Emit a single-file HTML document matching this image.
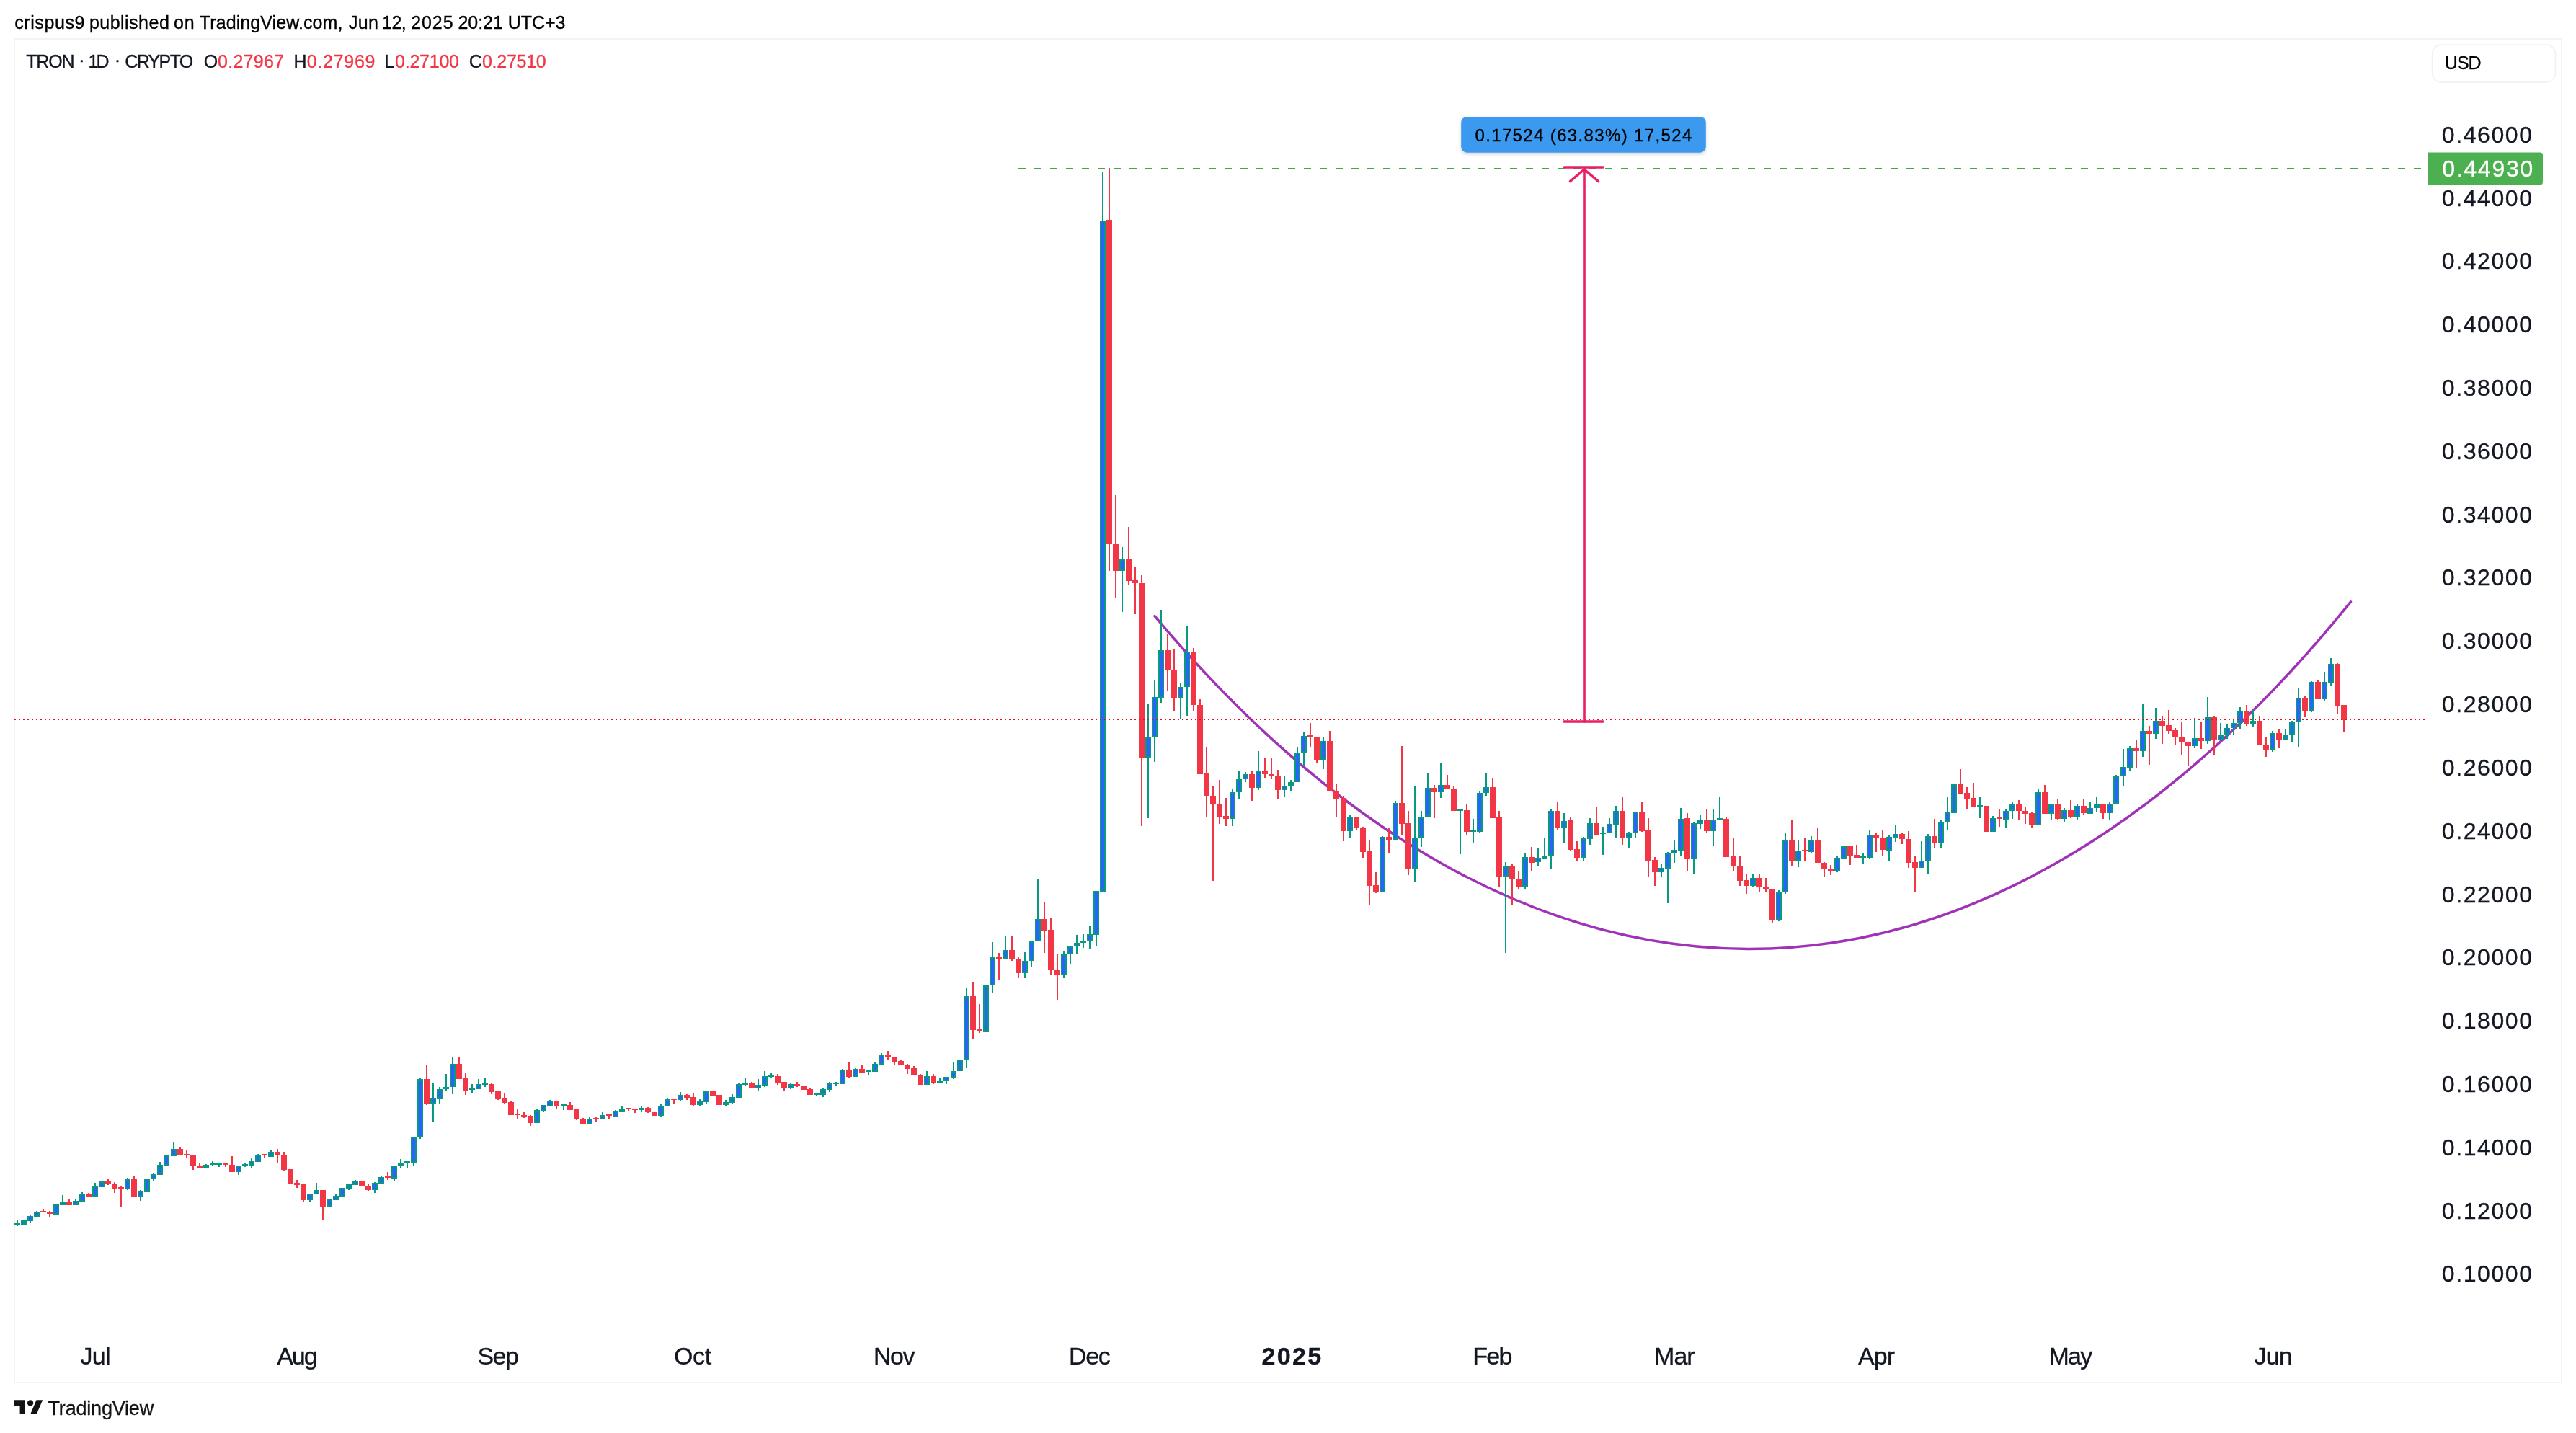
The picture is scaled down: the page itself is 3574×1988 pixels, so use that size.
<!DOCTYPE html>
<html><head><meta charset="utf-8"><style>
html,body{margin:0;padding:0;background:#fff;}
svg{display:block;}
text{font-family:"Liberation Sans",sans-serif;}
svg{will-change:transform;}
</style></head><body>
<svg width="3574" height="1988" viewBox="0 0 3574 1988">
<rect x="0" y="0" width="3574" height="1988" fill="#ffffff"/>
<rect x="20" y="54" width="3534" height="1864" fill="none" stroke="#f3f3f3" stroke-width="2"/>
<text x="20.14" y="40.00" font-size="25" letter-spacing="0.594" fill="#000000" stroke="#000000" stroke-width="0.35">crispus9</text>
<text x="123.89" y="40.00" font-size="25" letter-spacing="0.486" fill="#000000" stroke="#000000" stroke-width="0.35">published</text>
<text x="240.95" y="40.00" font-size="25" letter-spacing="0.966" fill="#000000" stroke="#000000" stroke-width="0.35">on</text>
<text x="276.84" y="40.00" font-size="25" letter-spacing="0.089" fill="#000000" stroke="#000000" stroke-width="0.35">TradingView.com,</text>
<text x="483.91" y="40.00" font-size="25" letter-spacing="0.403" fill="#000000" stroke="#000000" stroke-width="0.35">Jun</text>
<text x="530.10" y="40.00" font-size="25" letter-spacing="-0.552" fill="#000000" stroke="#000000" stroke-width="0.35">12,</text>
<text x="570.34" y="40.00" font-size="25" letter-spacing="0.864" fill="#000000" stroke="#000000" stroke-width="0.35">2025</text>
<text x="635.54" y="40.00" font-size="25" letter-spacing="-0.071" fill="#000000" stroke="#000000" stroke-width="0.35">20:21</text>
<text x="704.77" y="40.00" font-size="25" letter-spacing="-0.089" fill="#000000" stroke="#000000" stroke-width="0.35">UTC+3</text>
<text x="36.24" y="93.90" font-size="25" letter-spacing="-1.175" fill="#131722" stroke="#131722" stroke-width="0.35">TRON</text>
<text x="122.40" y="93.90" font-size="25" letter-spacing="-2.757" fill="#131722" stroke="#131722" stroke-width="0.35">1D</text>
<text x="173.23" y="93.90" font-size="25" letter-spacing="-1.642" fill="#131722" stroke="#131722" stroke-width="0.35">CRYPTO</text>
<rect x="111.8" y="83.3" width="3" height="3" rx="0.6" fill="#131722"/>
<rect x="161.5" y="83.3" width="3" height="3" rx="0.6" fill="#131722"/>
<text x="282.82" y="93.90" font-size="25" letter-spacing="0.000" fill="#131722" stroke="#131722" stroke-width="0.35">O</text>
<text x="302.02" y="93.90" font-size="25" letter-spacing="0.261" fill="#f23645" stroke="#f23645" stroke-width="0.35">0.27967</text>
<text x="407.55" y="93.90" font-size="25" letter-spacing="0.000" fill="#131722" stroke="#131722" stroke-width="0.35">H</text>
<text x="425.72" y="93.90" font-size="25" letter-spacing="0.732" fill="#f23645" stroke="#f23645" stroke-width="0.35">0.27969</text>
<text x="533.35" y="93.90" font-size="25" letter-spacing="0.000" fill="#131722" stroke="#131722" stroke-width="0.35">L</text>
<text x="548.02" y="93.90" font-size="25" letter-spacing="-0.236" fill="#f23645" stroke="#f23645" stroke-width="0.35">0.27100</text>
<text x="650.63" y="93.90" font-size="25" letter-spacing="0.000" fill="#131722" stroke="#131722" stroke-width="0.35">C</text>
<text x="668.92" y="93.90" font-size="25" letter-spacing="-0.253" fill="#f23645" stroke="#f23645" stroke-width="0.35">0.27510</text>
<rect x="3374.5" y="62" width="171" height="52" rx="13" fill="#ffffff" stroke="#f0f0f0" stroke-width="1.5"/>
<text x="3391.87" y="95.90" font-size="25" letter-spacing="-1.029" fill="#000000" stroke="#000000" stroke-width="0.35">USD</text>
<path d="M1602 854.6 C2110.08 1460 2734.36 1487.4 3261.5 834.8" fill="none" stroke="#a032b8" stroke-width="3.5" stroke-linecap="round"/>
<path d="M23 1692h2v5h-2zM23 1699h2v2h-2zM20 1697h8v2h-8zM32 1692h2v1h-2zM29 1693h8v6h-8zM41 1685h2v2h-2zM41 1694h2v2h-2zM38 1687h8v7h-8zM50 1680h2v1h-2zM47 1681h8v7h-8zM77 1670h2v1h-2zM74 1671h8v14h-8zM86 1658h2v10h-2zM83 1668h8v4h-8zM104 1663h2v3h-2zM101 1666h8v6h-8zM113 1653h2v3h-2zM110 1656h8v11h-8zM131 1641h2v5h-2zM128 1646h8v14h-8zM137 1639h8v8h-8zM176 1634h2v2h-2zM176 1650h2v1h-2zM173 1636h8v14h-8zM194 1651h2v1h-2zM194 1660h2v6h-2zM191 1652h8v8h-8zM200 1635h8v18h-8zM212 1627h2v2h-2zM212 1636h2v3h-2zM209 1629h8v7h-8zM221 1612h2v4h-2zM218 1616h8v14h-8zM230 1617h2v1h-2zM227 1603h8v14h-8zM240 1584h2v10h-2zM237 1594h8v10h-8zM285 1615h2v1h-2zM285 1620h2v1h-2zM282 1616h8v4h-8zM294 1610h2v4h-2zM294 1616h2v1h-2zM291 1614h8v2h-8zM303 1616h2v3h-2zM300 1614h8v2h-8zM330 1626h2v4h-2zM327 1617h8v9h-8zM339 1614h2v1h-2zM339 1617h2v2h-2zM336 1615h8v2h-8zM348 1607h2v4h-2zM348 1617h2v3h-2zM345 1611h8v6h-8zM357 1601h2v1h-2zM354 1602h8v10h-8zM375 1595h2v3h-2zM372 1598h8v7h-8zM429 1665h2v2h-2zM426 1656h8v9h-8zM438 1641h2v10h-2zM435 1651h8v6h-8zM456 1663h2v1h-2zM453 1664h8v10h-8zM465 1656h2v3h-2zM462 1659h8v6h-8zM474 1660h2v1h-2zM471 1648h8v12h-8zM483 1649h2v2h-2zM480 1643h8v6h-8zM492 1637h2v2h-2zM489 1639h8v5h-8zM519 1640h2v1h-2zM519 1651h2v4h-2zM516 1641h8v10h-8zM528 1631h2v2h-2zM525 1633h8v9h-8zM546 1635h2v3h-2zM543 1617h8v18h-8zM555 1608h2v6h-2zM555 1618h2v3h-2zM552 1614h8v4h-8zM564 1613h2v8h-2zM561 1611h8v2h-8zM573 1613h2v5h-2zM570 1577h8v36h-8zM582 1495h2v2h-2zM582 1578h2v2h-2zM579 1497h8v81h-8zM600 1503h2v20h-2zM600 1531h2v25h-2zM597 1523h8v8h-8zM609 1508h2v3h-2zM609 1524h2v8h-2zM606 1511h8v13h-8zM618 1490h2v18h-2zM618 1511h2v2h-2zM615 1508h8v3h-8zM627 1467h2v9h-2zM627 1508h2v10h-2zM624 1476h8v32h-8zM654 1504h2v6h-2zM654 1512h2v4h-2zM651 1510h8v2h-8zM663 1497h2v7h-2zM660 1504h8v7h-8zM672 1496h2v7h-2zM672 1505h2v3h-2zM669 1503h8v2h-8zM744 1539h2v1h-2zM741 1540h8v18h-8zM753 1541h2v2h-2zM750 1533h8v8h-8zM762 1526h2v1h-2zM759 1527h8v8h-8zM781 1534h2v6h-2zM778 1532h8v2h-8zM817 1549h2v3h-2zM817 1559h2v1h-2zM814 1552h8v7h-8zM835 1542h2v5h-2zM832 1547h8v6h-8zM853 1540h2v1h-2zM850 1541h8v9h-8zM862 1535h2v3h-2zM859 1538h8v4h-8zM889 1535h2v2h-2zM889 1540h2v2h-2zM886 1537h8v3h-8zM916 1532h2v2h-2zM916 1548h2v2h-2zM913 1534h8v14h-8zM925 1523h2v2h-2zM922 1525h8v10h-8zM943 1515h2v4h-2zM943 1526h2v1h-2zM940 1519h8v7h-8zM970 1524h2v4h-2zM970 1533h2v1h-2zM967 1528h8v5h-8zM979 1529h2v3h-2zM976 1514h8v15h-8zM1006 1526h2v3h-2zM1006 1533h2v1h-2zM1003 1529h8v4h-8zM1015 1518h2v4h-2zM1015 1530h2v1h-2zM1012 1522h8v8h-8zM1024 1502h2v2h-2zM1021 1504h8v19h-8zM1033 1495h2v7h-2zM1033 1505h2v2h-2zM1030 1502h8v3h-8zM1051 1497h2v8h-2zM1051 1510h2v3h-2zM1048 1505h8v5h-8zM1060 1486h2v7h-2zM1060 1506h2v2h-2zM1057 1493h8v13h-8zM1069 1489h2v3h-2zM1069 1494h2v1h-2zM1066 1492h8v2h-8zM1096 1503h2v1h-2zM1096 1510h2v1h-2zM1093 1504h8v6h-8zM1132 1519h2v2h-2zM1129 1517h8v2h-8zM1141 1509h2v2h-2zM1141 1519h2v3h-2zM1138 1511h8v8h-8zM1150 1501h2v2h-2zM1150 1512h2v3h-2zM1147 1503h8v9h-8zM1159 1501h2v1h-2zM1159 1504h2v3h-2zM1156 1502h8v2h-8zM1168 1483h2v1h-2zM1165 1484h8v20h-8zM1186 1482h2v1h-2zM1183 1483h8v11h-8zM1204 1487h2v4h-2zM1201 1485h8v2h-8zM1213 1474h2v2h-2zM1210 1476h8v11h-8zM1222 1461h2v2h-2zM1222 1477h2v1h-2zM1219 1463h8v14h-8zM1285 1486h2v7h-2zM1282 1493h8v12h-8zM1303 1495h2v4h-2zM1300 1499h8v4h-8zM1312 1500h2v4h-2zM1309 1494h8v6h-8zM1322 1473h2v13h-2zM1322 1495h2v2h-2zM1319 1486h8v9h-8zM1328 1470h8v16h-8zM1340 1370h2v12h-2zM1340 1470h2v12h-2zM1337 1382h8v88h-8zM1367 1366h2v1h-2zM1367 1431h2v1h-2zM1364 1367h8v64h-8zM1376 1307h2v21h-2zM1376 1367h2v11h-2zM1373 1328h8v39h-8zM1394 1298h2v20h-2zM1391 1318h8v12h-8zM1421 1321h2v12h-2zM1421 1350h2v7h-2zM1418 1333h8v17h-8zM1430 1333h2v8h-2zM1427 1306h8v27h-8zM1439 1219h2v56h-2zM1436 1275h8v31h-8zM1475 1319h2v5h-2zM1475 1353h2v4h-2zM1472 1324h8v29h-8zM1484 1312h2v1h-2zM1484 1324h2v14h-2zM1481 1313h8v11h-8zM1493 1297h2v11h-2zM1493 1313h2v10h-2zM1490 1308h8v5h-8zM1502 1296h2v9h-2zM1502 1308h2v7h-2zM1499 1305h8v3h-8zM1511 1285h2v11h-2zM1511 1306h2v11h-2zM1508 1296h8v10h-8zM1520 1297h2v16h-2zM1517 1236h8v61h-8zM1529 239h2v67h-2zM1529 1237h2v1h-2zM1526 306h8v931h-8zM1556 759h2v17h-2zM1556 792h2v57h-2zM1553 776h8v16h-8zM1592 977h2v45h-2zM1592 1051h2v84h-2zM1589 1022h8v29h-8zM1601 944h2v23h-2zM1601 1023h2v34h-2zM1598 967h8v56h-8zM1610 846h2v56h-2zM1610 968h2v7h-2zM1607 902h8v66h-8zM1637 948h2v5h-2zM1637 968h2v29h-2zM1634 953h8v15h-8zM1646 869h2v35h-2zM1646 953h2v40h-2zM1643 904h8v49h-8zM1709 1094h2v5h-2zM1709 1136h2v10h-2zM1706 1099h8v37h-8zM1718 1069h2v12h-2zM1718 1099h2v9h-2zM1715 1081h8v18h-8zM1727 1071h2v3h-2zM1727 1081h2v4h-2zM1724 1074h8v7h-8zM1745 1042h2v27h-2zM1745 1093h2v3h-2zM1742 1069h8v24h-8zM1781 1077h2v13h-2zM1781 1096h2v9h-2zM1778 1090h8v6h-8zM1790 1082h2v3h-2zM1790 1090h2v7h-2zM1787 1085h8v5h-8zM1799 1037h2v7h-2zM1796 1044h8v41h-8zM1808 1016h2v5h-2zM1808 1044h2v18h-2zM1805 1021h8v23h-8zM1835 1022h2v6h-2zM1835 1054h2v13h-2zM1832 1028h8v26h-8zM1872 1131h2v2h-2zM1872 1153h2v9h-2zM1869 1133h8v20h-8zM1917 1160h2v1h-2zM1914 1161h8v77h-8zM1935 1111h2v3h-2zM1932 1114h8v51h-8zM1962 1090h2v72h-2zM1962 1205h2v18h-2zM1959 1162h8v43h-8zM1971 1125h2v8h-2zM1971 1162h2v13h-2zM1968 1133h8v29h-8zM1980 1072h2v21h-2zM1977 1093h8v40h-8zM1998 1058h2v31h-2zM1998 1099h2v8h-2zM1995 1089h8v10h-8zM2025 1125h2v60h-2zM2022 1123h8v2h-8zM2043 1136h2v16h-2zM2043 1154h2v16h-2zM2040 1152h8v2h-8zM2052 1097h2v3h-2zM2052 1154h2v2h-2zM2049 1100h8v54h-8zM2061 1073h2v19h-2zM2061 1100h2v4h-2zM2058 1092h8v8h-8zM2088 1196h2v6h-2zM2088 1216h2v106h-2zM2085 1202h8v14h-8zM2115 1184h2v5h-2zM2115 1230h2v4h-2zM2112 1189h8v41h-8zM2133 1177h2v13h-2zM2133 1196h2v6h-2zM2130 1190h8v6h-8zM2142 1163h2v24h-2zM2139 1187h8v4h-8zM2151 1122h2v3h-2zM2151 1187h2v18h-2zM2148 1125h8v62h-8zM2169 1128h2v11h-2zM2169 1149h2v21h-2zM2166 1139h8v10h-8zM2196 1161h2v2h-2zM2196 1190h2v5h-2zM2193 1163h8v27h-8zM2205 1135h2v7h-2zM2205 1164h2v8h-2zM2202 1142h8v22h-8zM2223 1147h2v8h-2zM2223 1157h2v29h-2zM2220 1155h8v2h-8zM2232 1135h2v8h-2zM2229 1143h8v13h-8zM2241 1118h2v7h-2zM2241 1144h2v19h-2zM2238 1125h8v19h-8zM2259 1154h2v2h-2zM2259 1163h2v14h-2zM2256 1156h8v7h-8zM2268 1156h2v6h-2zM2265 1126h8v30h-8zM2304 1199h2v5h-2zM2304 1210h2v7h-2zM2301 1204h8v6h-8zM2313 1182h2v1h-2zM2313 1205h2v48h-2zM2310 1183h8v22h-8zM2322 1165h2v14h-2zM2322 1184h2v13h-2zM2319 1179h8v5h-8zM2331 1121h2v15h-2zM2331 1180h2v7h-2zM2328 1136h8v44h-8zM2349 1141h2v1h-2zM2349 1192h2v20h-2zM2346 1142h8v50h-8zM2358 1131h2v6h-2zM2358 1143h2v7h-2zM2355 1137h8v6h-8zM2376 1123h2v14h-2zM2376 1153h2v21h-2zM2373 1137h8v16h-8zM2385 1105h2v30h-2zM2382 1135h8v2h-8zM2431 1212h2v6h-2zM2431 1229h2v1h-2zM2428 1218h8v11h-8zM2467 1235h2v3h-2zM2467 1276h2v2h-2zM2464 1238h8v38h-8zM2476 1155h2v10h-2zM2476 1238h2v2h-2zM2473 1165h8v73h-8zM2494 1166h2v14h-2zM2494 1194h2v9h-2zM2491 1180h8v14h-8zM2512 1160h2v6h-2zM2512 1182h2v2h-2zM2509 1166h8v16h-8zM2548 1188h2v2h-2zM2548 1209h2v1h-2zM2545 1190h8v19h-8zM2557 1173h2v1h-2zM2557 1191h2v1h-2zM2554 1174h8v17h-8zM2584 1184h2v4h-2zM2584 1190h2v8h-2zM2581 1188h8v2h-8zM2593 1152h2v6h-2zM2593 1190h2v2h-2zM2590 1158h8v32h-8zM2620 1159h2v2h-2zM2620 1180h2v15h-2zM2617 1161h8v19h-8zM2629 1145h2v12h-2zM2629 1162h2v6h-2zM2626 1157h8v5h-8zM2665 1167h2v27h-2zM2662 1194h8v10h-8zM2674 1157h2v3h-2zM2674 1195h2v18h-2zM2671 1160h8v35h-8zM2692 1137h2v3h-2zM2692 1170h2v7h-2zM2689 1140h8v30h-8zM2701 1106h2v21h-2zM2701 1140h2v11h-2zM2698 1127h8v13h-8zM2707 1088h8v40h-8zM2746 1106h2v11h-2zM2746 1119h2v16h-2zM2743 1117h8v2h-8zM2764 1132h2v3h-2zM2761 1135h8v19h-8zM2782 1122h2v3h-2zM2782 1137h2v11h-2zM2779 1125h8v12h-8zM2791 1112h2v4h-2zM2791 1125h2v11h-2zM2788 1116h8v9h-8zM2827 1094h2v5h-2zM2824 1099h8v46h-8zM2845 1115h2v1h-2zM2845 1129h2v8h-2zM2842 1116h8v13h-8zM2863 1121h2v3h-2zM2863 1136h2v5h-2zM2860 1124h8v12h-8zM2881 1115h2v3h-2zM2881 1133h2v5h-2zM2878 1118h8v15h-8zM2899 1113h2v8h-2zM2896 1121h8v8h-8zM2908 1106h2v10h-2zM2908 1121h2v5h-2zM2905 1116h8v5h-8zM2926 1112h2v3h-2zM2926 1128h2v9h-2zM2923 1115h8v13h-8zM2935 1075h2v2h-2zM2932 1077h8v38h-8zM2945 1039h2v25h-2zM2945 1077h2v13h-2zM2942 1064h8v13h-8zM2954 1035h2v3h-2zM2954 1065h2v5h-2zM2951 1038h8v27h-8zM2972 977h2v37h-2zM2972 1042h2v8h-2zM2969 1014h8v28h-8zM2990 982h2v18h-2zM2990 1018h2v7h-2zM2987 1000h8v18h-8zM3044 996h2v28h-2zM3044 1035h2v3h-2zM3041 1024h8v11h-8zM3062 967h2v28h-2zM3062 1028h2v4h-2zM3059 995h8v33h-8zM3080 1003h2v17h-2zM3077 1020h8v7h-8zM3089 1004h2v6h-2zM3089 1019h2v6h-2zM3086 1010h8v9h-8zM3098 999h2v4h-2zM3098 1010h2v9h-2zM3095 1003h8v7h-8zM3107 981h2v5h-2zM3107 1003h2v9h-2zM3104 986h8v17h-8zM3125 985h2v15h-2zM3125 1004h2v5h-2zM3122 1000h8v4h-8zM3152 1014h2v3h-2zM3152 1040h2v3h-2zM3149 1017h8v23h-8zM3170 1011h2v9h-2zM3167 1020h8v6h-8zM3179 1000h2v1h-2zM3179 1020h2v9h-2zM3176 1001h8v19h-8zM3188 955h2v13h-2zM3188 1002h2v35h-2zM3185 968h8v34h-8zM3206 945h2v1h-2zM3206 986h2v2h-2zM3203 946h8v40h-8zM3224 932h2v14h-2zM3224 970h2v2h-2zM3221 946h8v24h-8zM3233 913h2v8h-2zM3233 947h2v4h-2zM3230 921h8v26h-8z" fill="#089981" shape-rendering="crispEdges"/>
<path d="M31 1695h4v2h-4zM40 1689h4v3h-4zM49 1683h4v3h-4zM76 1673h4v10h-4zM103 1668h4v2h-4zM112 1658h4v7h-4zM130 1648h4v10h-4zM139 1641h4v4h-4zM175 1638h4v10h-4zM193 1654h4v4h-4zM202 1637h4v14h-4zM211 1631h4v3h-4zM220 1618h4v10h-4zM229 1605h4v10h-4zM239 1596h4v6h-4zM329 1619h4v5h-4zM347 1613h4v2h-4zM356 1604h4v6h-4zM374 1600h4v3h-4zM428 1658h4v5h-4zM437 1653h4v2h-4zM455 1666h4v6h-4zM464 1661h4v2h-4zM473 1650h4v8h-4zM482 1645h4v2h-4zM491 1641h4v1h-4zM518 1643h4v6h-4zM527 1635h4v5h-4zM545 1619h4v14h-4zM572 1579h4v32h-4zM581 1499h4v77h-4zM599 1525h4v4h-4zM608 1513h4v9h-4zM626 1478h4v28h-4zM662 1506h4v3h-4zM743 1542h4v14h-4zM752 1535h4v4h-4zM761 1529h4v4h-4zM816 1554h4v3h-4zM834 1549h4v2h-4zM852 1543h4v5h-4zM915 1536h4v10h-4zM924 1527h4v6h-4zM942 1521h4v3h-4zM969 1530h4v1h-4zM978 1516h4v11h-4zM1014 1524h4v4h-4zM1023 1506h4v15h-4zM1050 1507h4v1h-4zM1059 1495h4v9h-4zM1095 1506h4v2h-4zM1140 1513h4v4h-4zM1149 1505h4v5h-4zM1167 1486h4v16h-4zM1185 1485h4v7h-4zM1212 1478h4v7h-4zM1221 1465h4v10h-4zM1284 1495h4v8h-4zM1311 1496h4v2h-4zM1321 1488h4v5h-4zM1330 1472h4v12h-4zM1339 1384h4v84h-4zM1366 1369h4v60h-4zM1375 1330h4v35h-4zM1393 1320h4v8h-4zM1420 1335h4v13h-4zM1429 1308h4v23h-4zM1438 1277h4v27h-4zM1474 1326h4v25h-4zM1483 1315h4v7h-4zM1492 1310h4v1h-4zM1510 1298h4v6h-4zM1519 1238h4v57h-4zM1528 308h4v927h-4zM1555 778h4v12h-4zM1591 1024h4v25h-4zM1600 969h4v52h-4zM1609 904h4v62h-4zM1636 955h4v11h-4zM1645 906h4v45h-4zM1708 1101h4v33h-4zM1717 1083h4v14h-4zM1726 1076h4v3h-4zM1744 1071h4v20h-4zM1780 1092h4v2h-4zM1789 1087h4v1h-4zM1798 1046h4v37h-4zM1807 1023h4v19h-4zM1834 1030h4v22h-4zM1871 1135h4v16h-4zM1916 1163h4v73h-4zM1934 1116h4v47h-4zM1961 1164h4v39h-4zM1970 1135h4v25h-4zM1979 1095h4v36h-4zM1997 1091h4v6h-4zM2051 1102h4v50h-4zM2060 1094h4v4h-4zM2087 1204h4v10h-4zM2114 1191h4v37h-4zM2132 1192h4v2h-4zM2150 1127h4v58h-4zM2168 1141h4v6h-4zM2195 1165h4v23h-4zM2204 1144h4v18h-4zM2231 1145h4v9h-4zM2240 1127h4v15h-4zM2258 1158h4v3h-4zM2267 1128h4v26h-4zM2303 1206h4v2h-4zM2312 1185h4v18h-4zM2321 1181h4v1h-4zM2330 1138h4v40h-4zM2348 1144h4v46h-4zM2357 1139h4v2h-4zM2375 1139h4v12h-4zM2430 1220h4v7h-4zM2466 1240h4v34h-4zM2475 1167h4v69h-4zM2493 1182h4v10h-4zM2511 1168h4v12h-4zM2547 1192h4v15h-4zM2556 1176h4v13h-4zM2592 1160h4v28h-4zM2619 1163h4v15h-4zM2628 1159h4v1h-4zM2664 1196h4v6h-4zM2673 1162h4v31h-4zM2691 1142h4v26h-4zM2700 1129h4v9h-4zM2709 1090h4v36h-4zM2763 1137h4v15h-4zM2781 1127h4v8h-4zM2790 1118h4v5h-4zM2826 1101h4v42h-4zM2844 1118h4v9h-4zM2862 1126h4v8h-4zM2880 1120h4v11h-4zM2898 1123h4v4h-4zM2907 1118h4v1h-4zM2925 1117h4v9h-4zM2934 1079h4v34h-4zM2944 1066h4v9h-4zM2953 1040h4v23h-4zM2971 1016h4v24h-4zM2989 1002h4v14h-4zM3043 1026h4v7h-4zM3061 997h4v29h-4zM3079 1022h4v3h-4zM3088 1012h4v5h-4zM3097 1005h4v3h-4zM3106 988h4v13h-4zM3151 1019h4v19h-4zM3169 1022h4v2h-4zM3178 1003h4v15h-4zM3187 970h4v30h-4zM3205 948h4v36h-4zM3223 948h4v20h-4zM3232 923h4v22h-4z" fill="#2962ff" shape-rendering="crispEdges"/>
<path d="M59 1677h2v3h-2zM56 1680h8v2h-8zM68 1680h2v2h-2zM68 1684h2v5h-2zM65 1682h8v2h-8zM95 1663h2v5h-2zM92 1668h8v4h-8zM122 1655h2v1h-2zM119 1656h8v4h-8zM149 1636h2v3h-2zM149 1643h2v1h-2zM146 1639h8v4h-8zM158 1640h2v2h-2zM158 1649h2v6h-2zM155 1642h8v7h-8zM167 1645h2v2h-2zM167 1649h2v25h-2zM164 1647h8v2h-8zM185 1631h2v5h-2zM182 1636h8v24h-8zM249 1591h2v3h-2zM246 1594h8v9h-8zM258 1596h2v5h-2zM258 1603h2v3h-2zM255 1601h8v2h-8zM267 1602h2v1h-2zM267 1618h2v5h-2zM264 1603h8v15h-8zM276 1613h2v4h-2zM273 1617h8v3h-8zM312 1613h2v1h-2zM312 1616h2v3h-2zM309 1614h8v2h-8zM321 1604h2v12h-2zM318 1616h8v10h-8zM366 1603h2v4h-2zM363 1601h8v2h-8zM384 1594h2v4h-2zM384 1603h2v10h-2zM381 1598h8v5h-8zM393 1598h2v4h-2zM393 1623h2v2h-2zM390 1602h8v21h-8zM399 1622h8v20h-8zM411 1637h2v4h-2zM411 1644h2v4h-2zM408 1641h8v3h-8zM420 1665h2v2h-2zM417 1643h8v22h-8zM447 1674h2v18h-2zM444 1651h8v23h-8zM501 1638h2v1h-2zM498 1639h8v7h-8zM510 1643h2v2h-2zM510 1651h2v1h-2zM507 1645h8v6h-8zM537 1626h2v6h-2zM537 1634h2v3h-2zM534 1632h8v2h-8zM591 1477h2v20h-2zM591 1531h2v2h-2zM588 1497h8v34h-8zM636 1466h2v10h-2zM633 1476h8v21h-8zM645 1489h2v7h-2zM645 1513h2v6h-2zM642 1496h8v17h-8zM681 1502h2v2h-2zM681 1515h2v3h-2zM678 1504h8v11h-8zM690 1513h2v1h-2zM690 1524h2v2h-2zM687 1514h8v10h-8zM699 1517h2v6h-2zM699 1530h2v1h-2zM696 1523h8v7h-8zM708 1527h2v2h-2zM705 1529h8v18h-8zM717 1538h2v7h-2zM717 1547h2v6h-2zM714 1545h8v2h-8zM726 1542h2v5h-2zM726 1549h2v2h-2zM723 1547h8v2h-8zM735 1547h2v1h-2zM735 1558h2v4h-2zM732 1548h8v10h-8zM771 1535h2v3h-2zM768 1527h8v8h-8zM790 1529h2v4h-2zM787 1533h8v7h-8zM799 1553h2v1h-2zM796 1539h8v14h-8zM808 1551h2v1h-2zM808 1559h2v1h-2zM805 1552h8v7h-8zM826 1549h2v2h-2zM826 1553h2v4h-2zM823 1551h8v2h-8zM844 1548h2v4h-2zM841 1546h8v2h-8zM871 1539h2v2h-2zM868 1537h8v2h-8zM880 1540h2v4h-2zM877 1538h8v2h-8zM898 1536h2v1h-2zM898 1543h2v1h-2zM895 1537h8v6h-8zM904 1542h8v6h-8zM934 1526h2v5h-2zM931 1524h8v2h-8zM952 1518h2v1h-2zM952 1523h2v3h-2zM949 1519h8v4h-8zM961 1517h2v5h-2zM961 1533h2v1h-2zM958 1522h8v11h-8zM988 1513h2v1h-2zM985 1514h8v6h-8zM994 1519h8v14h-8zM1042 1501h2v1h-2zM1039 1502h8v8h-8zM1078 1490h2v3h-2zM1078 1502h2v3h-2zM1075 1493h8v9h-8zM1087 1510h2v4h-2zM1084 1501h8v9h-8zM1105 1501h2v3h-2zM1105 1506h2v2h-2zM1102 1504h8v2h-8zM1111 1506h8v6h-8zM1123 1509h2v2h-2zM1120 1511h8v8h-8zM1177 1474h2v10h-2zM1177 1494h2v1h-2zM1174 1484h8v10h-8zM1195 1477h2v6h-2zM1192 1483h8v5h-8zM1231 1458h2v5h-2zM1231 1467h2v3h-2zM1228 1463h8v4h-8zM1240 1466h2v1h-2zM1240 1473h2v4h-2zM1237 1467h8v6h-8zM1249 1470h2v2h-2zM1246 1472h8v6h-8zM1258 1476h2v1h-2zM1258 1483h2v7h-2zM1255 1477h8v6h-8zM1267 1479h2v3h-2zM1264 1482h8v10h-8zM1276 1490h2v1h-2zM1273 1491h8v14h-8zM1294 1490h2v3h-2zM1294 1503h2v1h-2zM1291 1493h8v10h-8zM1349 1362h2v20h-2zM1349 1429h2v13h-2zM1346 1382h8v47h-8zM1358 1393h2v34h-2zM1358 1430h2v3h-2zM1355 1427h8v3h-8zM1385 1322h2v5h-2zM1385 1330h2v30h-2zM1382 1327h8v3h-8zM1403 1299h2v19h-2zM1403 1331h2v2h-2zM1400 1318h8v13h-8zM1412 1328h2v2h-2zM1412 1350h2v7h-2zM1409 1330h8v20h-8zM1448 1252h2v23h-2zM1448 1291h2v31h-2zM1445 1275h8v16h-8zM1457 1274h2v16h-2zM1457 1346h2v7h-2zM1454 1290h8v56h-8zM1466 1324h2v21h-2zM1466 1353h2v34h-2zM1463 1345h8v8h-8zM1538 233h2v72h-2zM1538 755h2v37h-2zM1535 305h8v450h-8zM1547 687h2v67h-2zM1547 792h2v37h-2zM1544 754h8v38h-8zM1565 731h2v45h-2zM1565 806h2v5h-2zM1562 776h8v30h-8zM1574 786h2v19h-2zM1574 809h2v43h-2zM1571 805h8v4h-8zM1583 798h2v11h-2zM1583 1051h2v95h-2zM1580 809h8v242h-8zM1619 879h2v23h-2zM1619 930h2v28h-2zM1616 902h8v28h-8zM1628 900h2v30h-2zM1628 968h2v18h-2zM1625 930h8v38h-8zM1655 899h2v5h-2zM1655 978h2v8h-2zM1652 904h8v74h-8zM1664 970h2v8h-2zM1661 978h8v96h-8zM1673 1037h2v36h-2zM1673 1104h2v30h-2zM1670 1073h8v31h-8zM1682 1090h2v14h-2zM1682 1115h2v107h-2zM1679 1104h8v11h-8zM1691 1082h2v33h-2zM1691 1133h2v10h-2zM1688 1115h8v18h-8zM1700 1107h2v25h-2zM1700 1136h2v10h-2zM1697 1132h8v4h-8zM1736 1070h2v4h-2zM1736 1093h2v18h-2zM1733 1074h8v19h-8zM1754 1052h2v17h-2zM1754 1074h2v6h-2zM1751 1069h8v5h-8zM1763 1052h2v22h-2zM1763 1077h2v4h-2zM1760 1074h8v3h-8zM1772 1068h2v8h-2zM1772 1096h2v12h-2zM1769 1076h8v20h-8zM1817 1003h2v17h-2zM1817 1022h2v15h-2zM1814 1020h8v2h-8zM1826 1022h2v1h-2zM1826 1054h2v5h-2zM1823 1023h8v31h-8zM1844 1014h2v14h-2zM1841 1028h8v69h-8zM1853 1087h2v10h-2zM1853 1108h2v26h-2zM1850 1097h8v11h-8zM1863 1104h2v3h-2zM1863 1153h2v14h-2zM1860 1107h8v46h-8zM1881 1149h2v2h-2zM1878 1133h8v16h-8zM1890 1147h2v1h-2zM1890 1182h2v8h-2zM1887 1148h8v34h-8zM1899 1165h2v16h-2zM1899 1229h2v26h-2zM1896 1181h8v48h-8zM1908 1210h2v18h-2zM1908 1238h2v1h-2zM1905 1228h8v10h-8zM1926 1148h2v13h-2zM1926 1165h2v18h-2zM1923 1161h8v4h-8zM1944 1035h2v79h-2zM1944 1143h2v15h-2zM1941 1114h8v29h-8zM1953 1125h2v17h-2zM1953 1205h2v9h-2zM1950 1142h8v63h-8zM1989 1089h2v4h-2zM1989 1099h2v36h-2zM1986 1093h8v6h-8zM2007 1075h2v14h-2zM2004 1089h8v6h-8zM2016 1090h2v4h-2zM2013 1094h8v31h-8zM2034 1116h2v8h-2zM2034 1154h2v5h-2zM2031 1124h8v30h-8zM2070 1080h2v12h-2zM2067 1092h8v43h-8zM2079 1125h2v9h-2zM2079 1216h2v14h-2zM2076 1134h8v82h-8zM2097 1198h2v4h-2zM2097 1220h2v36h-2zM2094 1202h8v18h-8zM2106 1209h2v11h-2zM2106 1231h2v2h-2zM2103 1220h8v11h-8zM2124 1175h2v14h-2zM2124 1197h2v11h-2zM2121 1189h8v8h-8zM2160 1112h2v13h-2zM2160 1149h2v3h-2zM2157 1125h8v24h-8zM2178 1134h2v4h-2zM2178 1179h2v1h-2zM2175 1138h8v41h-8zM2187 1167h2v11h-2zM2187 1190h2v5h-2zM2184 1178h8v12h-8zM2214 1119h2v23h-2zM2211 1142h8v17h-8zM2250 1106h2v19h-2zM2250 1163h2v9h-2zM2247 1125h8v38h-8zM2277 1113h2v13h-2zM2277 1153h2v1h-2zM2274 1126h8v27h-8zM2286 1135h2v17h-2zM2286 1194h2v23h-2zM2283 1152h8v42h-8zM2295 1189h2v4h-2zM2295 1210h2v19h-2zM2292 1193h8v17h-8zM2340 1128h2v7h-2zM2340 1192h2v16h-2zM2337 1135h8v57h-8zM2367 1122h2v15h-2zM2367 1153h2v3h-2zM2364 1137h8v16h-8zM2394 1134h2v2h-2zM2391 1136h8v53h-8zM2404 1162h2v26h-2zM2404 1202h2v7h-2zM2401 1188h8v14h-8zM2413 1187h2v14h-2zM2413 1222h2v7h-2zM2410 1201h8v21h-8zM2422 1213h2v8h-2zM2422 1229h2v11h-2zM2419 1221h8v8h-8zM2440 1213h2v5h-2zM2440 1230h2v7h-2zM2437 1218h8v12h-8zM2449 1218h2v12h-2zM2449 1233h2v5h-2zM2446 1230h8v3h-8zM2458 1276h2v4h-2zM2455 1233h8v43h-8zM2485 1137h2v28h-2zM2485 1194h2v8h-2zM2482 1165h8v29h-8zM2503 1163h2v16h-2zM2503 1181h2v14h-2zM2500 1179h8v2h-8zM2521 1149h2v17h-2zM2518 1166h8v31h-8zM2530 1196h2v1h-2zM2530 1206h2v11h-2zM2527 1197h8v9h-8zM2539 1200h2v5h-2zM2539 1209h2v5h-2zM2536 1205h8v4h-8zM2566 1187h2v13h-2zM2563 1174h8v13h-8zM2575 1172h2v14h-2zM2572 1186h8v4h-8zM2602 1156h2v2h-2zM2602 1163h2v19h-2zM2599 1158h8v5h-8zM2611 1152h2v10h-2zM2611 1179h2v8h-2zM2608 1162h8v17h-8zM2638 1156h2v1h-2zM2638 1164h2v7h-2zM2635 1157h8v7h-8zM2647 1153h2v11h-2zM2647 1197h2v7h-2zM2644 1164h8v33h-8zM2656 1187h2v9h-2zM2656 1204h2v33h-2zM2653 1196h8v8h-8zM2683 1136h2v24h-2zM2683 1170h2v6h-2zM2680 1160h8v10h-8zM2719 1067h2v21h-2zM2719 1101h2v1h-2zM2716 1088h8v13h-8zM2728 1092h2v8h-2zM2728 1108h2v14h-2zM2725 1100h8v8h-8zM2737 1086h2v21h-2zM2734 1107h8v13h-8zM2752 1118h8v36h-8zM2773 1123h2v11h-2zM2773 1136h2v11h-2zM2770 1134h8v2h-8zM2800 1110h2v6h-2zM2800 1125h2v12h-2zM2797 1116h8v9h-8zM2809 1119h2v6h-2zM2809 1129h2v14h-2zM2806 1125h8v4h-8zM2818 1126h2v2h-2zM2818 1145h2v4h-2zM2815 1128h8v17h-8zM2836 1089h2v10h-2zM2833 1099h8v30h-8zM2854 1109h2v7h-2zM2854 1136h2v2h-2zM2851 1116h8v20h-8zM2872 1110h2v14h-2zM2872 1133h2v2h-2zM2869 1124h8v9h-8zM2890 1109h2v9h-2zM2890 1128h2v3h-2zM2887 1118h8v10h-8zM2917 1128h2v8h-2zM2914 1116h8v12h-8zM2963 1027h2v11h-2zM2963 1042h2v24h-2zM2960 1038h8v4h-8zM2981 1007h2v7h-2zM2981 1018h2v43h-2zM2978 1014h8v4h-8zM2999 993h2v7h-2zM2999 1007h2v25h-2zM2996 1000h8v7h-8zM3008 985h2v21h-2zM3008 1014h2v4h-2zM3005 1006h8v8h-8zM3017 1010h2v3h-2zM3017 1023h2v11h-2zM3014 1013h8v10h-8zM3026 1001h2v21h-2zM3026 1030h2v18h-2zM3023 1022h8v8h-8zM3035 1035h2v27h-2zM3032 1029h8v6h-8zM3053 1001h2v23h-2zM3053 1028h2v11h-2zM3050 1024h8v4h-8zM3071 993h2v2h-2zM3071 1027h2v20h-2zM3068 995h8v32h-8zM3116 978h2v8h-2zM3116 1005h2v2h-2zM3113 986h8v19h-8zM3134 993h2v7h-2zM3131 1000h8v34h-8zM3143 1023h2v11h-2zM3143 1040h2v10h-2zM3140 1034h8v6h-8zM3161 1012h2v5h-2zM3161 1026h2v12h-2zM3158 1017h8v9h-8zM3197 965h2v3h-2zM3197 986h2v9h-2zM3194 968h8v18h-8zM3215 943h2v3h-2zM3212 946h8v24h-8zM3242 920h2v1h-2zM3242 979h2v11h-2zM3239 921h8v58h-8zM3251 999h2v17h-2zM3248 978h8v21h-8z" fill="#f23645" shape-rendering="crispEdges"/>
<line x1="20" y1="998" x2="3364" y2="998" stroke="#ec0a1e" stroke-width="2" stroke-dasharray="2 4" shape-rendering="crispEdges"/>
<line x1="1412.8" y1="234" x2="3368" y2="234" stroke="#3fa943" stroke-width="2" stroke-dasharray="10 12" shape-rendering="crispEdges"/>
<g stroke="#e91e63" stroke-width="3.6" stroke-linecap="round" fill="none"><line x1="2198" y1="234" x2="2198" y2="1001"/><line x1="2170.5" y1="232" x2="2224" y2="232"/><line x1="2170" y1="1001" x2="2224" y2="1001"/><polyline points="2178.5,251.5 2198,235 2217.5,251.5"/></g>
<defs><filter id="sh" x="-10%" y="-30%" width="120%" height="180%"><feDropShadow dx="0" dy="2" stdDeviation="2.5" flood-color="#000" flood-opacity="0.18"/></filter></defs>
<rect x="2027.2" y="162" width="339.6" height="49.7" rx="8" fill="#3a9af0" filter="url(#sh)"/>
<text x="2046.46" y="195.60" font-size="24" letter-spacing="1.362" fill="#000000" stroke="#000000" stroke-width="0.35">0.17524 (63.83%) 17,524</text>
<text x="3387.75" y="197.80" font-size="32" letter-spacing="1.605" fill="#131722" stroke="#131722" stroke-width="0.35">0.46000</text>
<text x="3387.75" y="285.61" font-size="32" letter-spacing="1.605" fill="#131722" stroke="#131722" stroke-width="0.35">0.44000</text>
<text x="3387.75" y="373.42" font-size="32" letter-spacing="1.605" fill="#131722" stroke="#131722" stroke-width="0.35">0.42000</text>
<text x="3387.75" y="461.23" font-size="32" letter-spacing="1.605" fill="#131722" stroke="#131722" stroke-width="0.35">0.40000</text>
<text x="3387.75" y="549.04" font-size="32" letter-spacing="1.605" fill="#131722" stroke="#131722" stroke-width="0.35">0.38000</text>
<text x="3387.75" y="636.85" font-size="32" letter-spacing="1.605" fill="#131722" stroke="#131722" stroke-width="0.35">0.36000</text>
<text x="3387.75" y="724.66" font-size="32" letter-spacing="1.605" fill="#131722" stroke="#131722" stroke-width="0.35">0.34000</text>
<text x="3387.75" y="812.47" font-size="32" letter-spacing="1.605" fill="#131722" stroke="#131722" stroke-width="0.35">0.32000</text>
<text x="3387.75" y="900.28" font-size="32" letter-spacing="1.605" fill="#131722" stroke="#131722" stroke-width="0.35">0.30000</text>
<text x="3387.75" y="988.09" font-size="32" letter-spacing="1.605" fill="#131722" stroke="#131722" stroke-width="0.35">0.28000</text>
<text x="3387.75" y="1075.90" font-size="32" letter-spacing="1.605" fill="#131722" stroke="#131722" stroke-width="0.35">0.26000</text>
<text x="3387.75" y="1163.71" font-size="32" letter-spacing="1.605" fill="#131722" stroke="#131722" stroke-width="0.35">0.24000</text>
<text x="3387.75" y="1251.52" font-size="32" letter-spacing="1.605" fill="#131722" stroke="#131722" stroke-width="0.35">0.22000</text>
<text x="3387.75" y="1339.33" font-size="32" letter-spacing="1.605" fill="#131722" stroke="#131722" stroke-width="0.35">0.20000</text>
<text x="3387.75" y="1427.14" font-size="32" letter-spacing="1.605" fill="#131722" stroke="#131722" stroke-width="0.35">0.18000</text>
<text x="3387.75" y="1514.95" font-size="32" letter-spacing="1.605" fill="#131722" stroke="#131722" stroke-width="0.35">0.16000</text>
<text x="3387.75" y="1602.76" font-size="32" letter-spacing="1.605" fill="#131722" stroke="#131722" stroke-width="0.35">0.14000</text>
<text x="3387.75" y="1690.57" font-size="32" letter-spacing="1.605" fill="#131722" stroke="#131722" stroke-width="0.35">0.12000</text>
<text x="3387.75" y="1778.38" font-size="32" letter-spacing="1.605" fill="#131722" stroke="#131722" stroke-width="0.35">0.10000</text>
<path d="M3368 211.5 H3524 a4 4 0 0 1 4 4 V252.5 a4 4 0 0 1 -4 4 H3368 Z" fill="#4caf50"/>
<text x="3388.35" y="244.50" font-size="32" letter-spacing="1.705" fill="#ffffff" stroke="#ffffff" stroke-width="0.35">0.44930</text>
<text x="111.57" y="1892.60" font-size="34" letter-spacing="-0.779" fill="#131722" stroke="#131722" stroke-width="0.35">Jul</text>
<text x="384.13" y="1892.60" font-size="34" letter-spacing="-1.969" fill="#131722" stroke="#131722" stroke-width="0.35">Aug</text>
<text x="662.56" y="1892.60" font-size="34" letter-spacing="-1.612" fill="#131722" stroke="#131722" stroke-width="0.35">Sep</text>
<text x="934.99" y="1892.60" font-size="34" letter-spacing="-0.317" fill="#131722" stroke="#131722" stroke-width="0.35">Oct</text>
<text x="1212.11" y="1892.60" font-size="34" letter-spacing="-1.579" fill="#131722" stroke="#131722" stroke-width="0.35">Nov</text>
<text x="1483.11" y="1892.60" font-size="34" letter-spacing="-1.389" fill="#131722" stroke="#131722" stroke-width="0.35">Dec</text>
<text x="1750.62" y="1892.60" font-size="34" font-weight="bold" letter-spacing="2.263" fill="#131722" stroke="#131722" stroke-width="0.35">2025</text>
<text x="2043.31" y="1892.60" font-size="34" letter-spacing="-1.735" fill="#131722" stroke="#131722" stroke-width="0.35">Feb</text>
<text x="2295.11" y="1892.60" font-size="34" letter-spacing="-1.000" fill="#131722" stroke="#131722" stroke-width="0.35">Mar</text>
<text x="2578.03" y="1892.60" font-size="34" letter-spacing="-0.889" fill="#131722" stroke="#131722" stroke-width="0.35">Apr</text>
<text x="2842.41" y="1892.60" font-size="34" letter-spacing="-1.738" fill="#131722" stroke="#131722" stroke-width="0.35">May</text>
<text x="3127.67" y="1892.60" font-size="34" letter-spacing="-0.940" fill="#131722" stroke="#131722" stroke-width="0.35">Jun</text>
<path d="M20 1942.2H35V1961.5H27.6V1950.1H20Z" fill="#131313"/>
<circle cx="42.1" cy="1946.4" r="4.2" fill="#131313"/>
<path d="M50.5 1942.2H59.2L50.9 1961.5H42.3Z" fill="#131313"/>
<text x="66.59" y="1962.90" font-size="27" letter-spacing="-0.203" fill="#131313" stroke="#131313" stroke-width="0.35">TradingView</text>
</svg>
</body></html>
